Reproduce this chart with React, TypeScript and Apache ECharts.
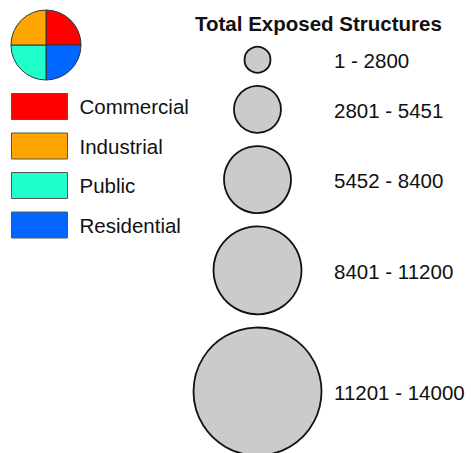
import React, { useEffect, useRef } from "react";
import * as echarts from "echarts";

// ---- data ----
const sectorNames = ["Commercial", "Residential", "Public", "Industrial"]; // clockwise from 12 o'clock
const sectorShares = [1, 1, 1, 1];
const legendOrder = ["Commercial", "Industrial", "Public", "Residential"];
const classLabels = ["1 - 2800", "2801 - 5451", "5452 - 8400", "8401 - 11200", "11201 - 14000"];
const classMin = [1, 2801, 5452, 8401, 11201];
const classMax = [2800, 5451, 8400, 11200, 14000];
const titleText = "Total Exposed Structures";

// ---- styles ----
const W = 471;
const H = 453;
const FONT = "'Liberation Sans', Arial, sans-serif";
const sectorColors: Record<string, string> = {
  Commercial: "#FF0000",
  Industrial: "#FFA500",
  Public: "#1EFFCC",
  Residential: "#0066FF",
};
const classDiameters = [26, 47, 67, 88, 128];
const stackTop = 46.7;
const stackGap = 13.2;
const circleCenterX = 257.5;
const labelX = 334;

export default function App() {
  const ref = useRef<HTMLDivElement>(null);
  useEffect(() => {
    if (!ref.current) return;
    const chart = echarts.init(ref.current, undefined, { renderer: "svg" });

    // stacked layout of the graduated symbols
    const centers: number[] = [];
    let y = stackTop;
    classDiameters.forEach((d) => {
      centers.push(y + d / 2);
      y += d + stackGap;
    });

    const scatterData = classLabels.map((lab, i) => ({
      name: lab,
      value: ["c", centers[i], classMin[i], classMax[i]],
      symbolSize: classDiameters[i],
    }));

    chart.setOption({
      animation: false,
      backgroundColor: "#ffffff",
      title: {
        text: titleText,
        left: 195,
        top: 13,
        padding: 0,
        textStyle: { fontFamily: FONT, fontSize: 20.5, fontWeight: "bold", color: "#111" },
      },
      legend: {
        orient: "vertical",
        left: 11,
        top: 93,
        padding: 0,
        itemWidth: 56,
        itemHeight: 26,
        itemGap: 12.5,
        icon: "rect",
        selectedMode: false,
        data: legendOrder,
        itemStyle: { borderColor: "#555", borderWidth: 1 },
        textStyle: { fontFamily: FONT, fontSize: 20.5, color: "#111", padding: [0, 0, 0, 7] },
      },
      grid: { left: circleCenterX - 50, width: 100, top: 0, height: H },
      xAxis: { type: "category", data: ["c"], show: false, boundaryGap: true },
      yAxis: { type: "value", min: 0, max: H, inverse: true, show: false },
      series: [
        {
          type: "pie",
          center: [46, 45],
          radius: 35,
          startAngle: 90,
          clockwise: true,
          silent: true,
          label: { show: false },
          labelLine: { show: false },
          itemStyle: { borderColor: "#333", borderWidth: 1 },
          data: sectorNames.map((n, i) => ({
            name: n,
            value: sectorShares[i],
            itemStyle: { color: sectorColors[n] },
          })),
        },
        {
          type: "scatter",
          silent: true,
          symbol: "circle",
          itemStyle: { color: "#CBCBCB", borderColor: "#111", borderWidth: 1.8, opacity: 1 },
          label: {
            show: true,
            position: "inside",
            offset: [labelX - circleCenterX, 1],
            align: "left",
            verticalAlign: "middle",
            formatter: (p: any) => p.name,
            fontFamily: FONT,
            fontSize: 20.5,
            color: "#111",
          },
          data: scatterData,
        },
      ],
    });
    return () => chart.dispose();
  }, []);
  return (
    <div
      ref={ref}
      style={{ position: "fixed", left: 0, top: 0, width: W, height: H, background: "#fff" }}
    />
  );
}
